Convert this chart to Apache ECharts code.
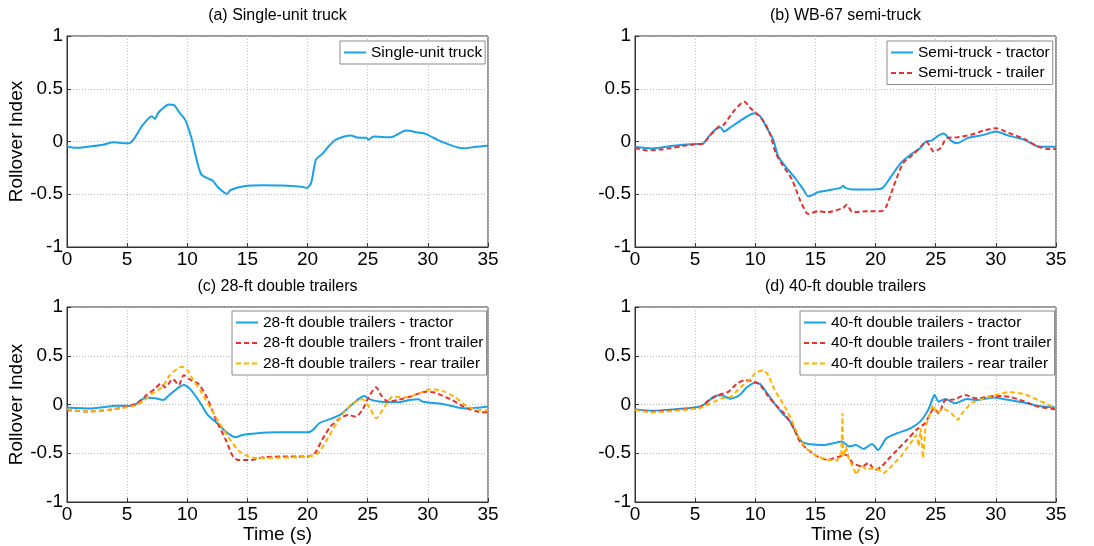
<!DOCTYPE html>
<html>
<head>
<meta charset="utf-8">
<script src="https://cdn.jsdelivr.net/npm/echarts@6/dist/echarts.min.js"></script>
<style>html,body{margin:0;padding:0;background:#fff;}#c{width:1094px;height:546px;}</style>
</head>
<body>
<div id="c"></div>
<script>
// ---- data: [time (s), rollover index] ----
const xTicks = [0, 5, 10, 15, 20, 25, 30, 35];
const yTicks = [-1, -0.5, 0, 0.5, 1];
const panelTitles = ['(a) Single-unit truck', '(b) WB-67 semi-truck', '(c) 28-ft double trailers', '(d) 40-ft double trailers'];

const suTruck = [[0,-0.047],[0.7,-0.06],[2,-0.045],[3,-0.03],[3.9,-0.008],[4.7,-0.016],[5.2,-0.016],[5.6,0.03],[6.3,0.157],[7.05,0.24],[7.3,0.215],[7.6,0.275],[8.25,0.34],[8.5,0.35],[8.9,0.345],[9.3,0.28],[9.85,0.2],[10.35,0.03],[10.75,-0.16],[11.15,-0.31],[11.7,-0.35],[12.1,-0.37],[12.6,-0.44],[13.3,-0.497],[13.6,-0.46],[14.7,-0.425],[16.3,-0.415],[17.9,-0.418],[19.5,-0.43],[19.95,-0.44],[20.3,-0.39],[20.7,-0.17],[21.2,-0.12],[21.8,-0.04],[22.4,0.02],[23.6,0.057],[24.1,0.038],[24.9,0.035],[25.05,0.015],[25.5,0.047],[26.9,0.04],[28.2,0.104],[29.2,0.085],[29.8,0.072],[31.1,0.0],[32.9,-0.065],[34,-0.05],[35,-0.04]];

const semiTractor = [[0,-0.053],[1.4,-0.066],[3.2,-0.04],[4.6,-0.025],[5.6,-0.022],[6.15,0.05],[6.7,0.115],[7.1,0.135],[7.4,0.094],[8,0.14],[8.8,0.2],[9.5,0.25],[9.9,0.267],[10.4,0.24],[10.9,0.14],[11.5,0.016],[11.9,-0.14],[12.5,-0.236],[13.3,-0.346],[14,-0.456],[14.4,-0.52],[14.8,-0.506],[15.2,-0.48],[16.2,-0.46],[17.1,-0.44],[17.3,-0.42],[17.5,-0.44],[18.1,-0.456],[19.4,-0.456],[20.5,-0.446],[21.3,-0.33],[22.1,-0.204],[22.9,-0.126],[23.7,-0.063],[24.2,0],[24.7,0.01],[25.1,0.047],[25.65,0.075],[26.3,0.006],[26.8,-0.016],[27.6,0.03],[29,0.063],[30,0.094],[31.1,0.053],[32.4,0.016],[33.5,-0.047],[34.5,-0.05],[35,-0.05]];

const semiTrailer = [[0,-0.06],[1,-0.085],[2,-0.078],[3,-0.062],[4,-0.042],[5,-0.028],[5.6,-0.022],[6.3,0.063],[6.95,0.14],[7.35,0.157],[8.3,0.3],[9.1,0.377],[9.6,0.315],[10.1,0.267],[10.8,0.173],[11.3,0.047],[11.7,-0.11],[12.25,-0.22],[13.05,-0.36],[13.7,-0.55],[14.25,-0.676],[14.4,-0.686],[15.2,-0.66],[16,-0.67],[17.3,-0.63],[17.6,-0.6],[18.1,-0.67],[19.4,-0.66],[20.5,-0.66],[20.9,-0.613],[21.5,-0.425],[22.3,-0.204],[23.1,-0.126],[23.9,-0.03],[24.2,0],[24.85,-0.094],[25.4,-0.063],[25.9,0.03],[26.8,0.04],[27.9,0.063],[29,0.104],[30,0.126],[31.1,0.08],[32.4,0.022],[33.5,-0.047],[34.3,-0.07],[35,-0.07]];

const d28Tractor = [[0,-0.03],[2.06,-0.04],[4.2,-0.012],[5.5,-0.015],[6,0.03],[6.56,0.073],[7.35,0.063],[8,0.046],[8.5,0.097],[9.3,0.176],[9.7,0.2],[10.3,0.15],[11.1,0.012],[11.7,-0.107],[12.5,-0.193],[13.2,-0.278],[14,-0.336],[14.6,-0.312],[15.8,-0.295],[17.4,-0.285],[19,-0.285],[20.05,-0.285],[20.45,-0.26],[21,-0.19],[21.9,-0.148],[22.7,-0.107],[23.5,-0.022],[24.2,0.053],[24.7,0.087],[25.2,0.053],[26.1,0.029],[27.5,0.022],[28.5,0.046],[29.2,0.053],[29.6,0.029],[31.2,0.005],[32.5,-0.03],[33.3,-0.04],[34,-0.034],[35,-0.02]];

const d28Front = [[0,-0.056],[1.5,-0.073],[3.4,-0.056],[5,-0.02],[5.8,0.012],[6.6,0.097],[7.35,0.165],[7.8,0.215],[8.15,0.176],[8.8,0.26],[9.3,0.2],[9.7,0.3],[10.3,0.25],[10.9,0.216],[11.6,0.08],[12.4,-0.16],[13.2,-0.364],[13.8,-0.534],[14.2,-0.568],[15.3,-0.568],[16.35,-0.54],[17.9,-0.534],[20,-0.534],[20.6,-0.5],[21.2,-0.364],[21.9,-0.227],[22.7,-0.142],[23.4,-0.107],[24,-0.125],[24.55,-0.056],[25.1,0.08],[25.7,0.176],[26.1,0.097],[26.7,0.029],[27.5,0.046],[28.5,0.08],[29.8,0.13],[30.6,0.12],[32,0.046],[33.3,-0.04],[34.2,-0.075],[35,-0.08]];

const d28Rear = [[0,-0.05],[1.5,-0.073],[3.4,-0.056],[5.5,-0.015],[6.3,0.03],[7.1,0.114],[7.9,0.176],[8.55,0.3],[9.2,0.37],[9.6,0.387],[10,0.353],[10.5,0.25],[11.06,0.148],[11.7,0.012],[12.6,-0.176],[13.4,-0.33],[14.2,-0.466],[15,-0.528],[15.8,-0.55],[17.4,-0.545],[20,-0.534],[20.85,-0.5],[21.6,-0.364],[22.4,-0.193],[23.2,-0.056],[23.75,0.012],[24.55,0.053],[25.2,-0.04],[25.7,-0.142],[26.4,-0.022],[27.1,0.08],[28,0.073],[29,0.097],[30.2,0.155],[31.2,0.14],[32.2,0.08],[33.3,-0.022],[34.2,-0.055],[35,-0.06]];

const d40Tractor = [[0,-0.05],[1.4,-0.063],[3.2,-0.05],[5.36,-0.022],[5.9,0.012],[6.55,0.08],[7.2,0.094],[7.9,0.06],[8.7,0.097],[9.3,0.176],[10,0.224],[10.4,0.21],[11.1,0.097],[11.7,-0.005],[12.25,-0.09],[12.9,-0.176],[13.4,-0.295],[13.85,-0.38],[14.4,-0.404],[15.7,-0.415],[16.5,-0.397],[17.2,-0.38],[17.8,-0.43],[18.35,-0.415],[19,-0.456],[19.7,-0.404],[20.2,-0.466],[20.9,-0.346],[21.8,-0.295],[22.9,-0.244],[23.7,-0.176],[24.3,-0.073],[24.7,0.046],[24.9,0.097],[25.25,0.029],[25.8,0.056],[26.6,0.012],[27.6,0.056],[28.4,0.046],[29.8,0.073],[31.1,0.046],[32.4,0.019],[33.5,-0.015],[35,-0.03]];

const d40Front = [[0,-0.05],[1.4,-0.073],[3.2,-0.056],[5.36,-0.03],[6.15,0.046],[6.95,0.097],[7.75,0.13],[8.5,0.216],[9.2,0.25],[9.87,0.234],[10.4,0.2],[11.1,0.08],[11.7,-0.005],[12.5,-0.107],[13.2,-0.244],[13.7,-0.38],[14.4,-0.466],[15.2,-0.534],[16,-0.568],[16.8,-0.54],[17.6,-0.517],[18.1,-0.6],[18.9,-0.636],[19.4,-0.6],[19.95,-0.67],[20.5,-0.636],[21,-0.568],[21.8,-0.466],[22.6,-0.364],[23.4,-0.26],[24.1,-0.193],[24.5,-0.107],[24.85,-0.04],[25.25,-0.09],[25.8,0.046],[26.6,0.053],[27.4,0.097],[28.4,0.063],[29.8,0.087],[31.1,0.08],[32.4,0.029],[33.5,-0.022],[35,-0.05]];

const d40Rear = [[0,-0.056],[1.4,-0.083],[3.2,-0.066],[5.36,-0.04],[6.3,0.012],[7.2,0.063],[8,0.08],[8.8,0.18],[9.5,0.25],[10.1,0.336],[10.7,0.353],[11.1,0.3],[11.6,0.148],[12.3,0.012],[12.9,-0.125],[13.6,-0.33],[14.2,-0.45],[15.2,-0.534],[16,-0.568],[16.8,-0.575],[17.15,-0.5],[17.25,-0.09],[17.3,-0.534],[17.55,-0.43],[17.7,-0.534],[18.1,-0.636],[18.4,-0.72],[18.6,-0.67],[18.9,-0.636],[19.3,-0.67],[19.7,-0.653],[20.2,-0.664],[20.7,-0.705],[21.3,-0.636],[22.1,-0.534],[22.9,-0.398],[23.4,-0.312],[23.6,-0.43],[23.75,-0.244],[23.95,-0.55],[24.15,-0.227],[24.5,-0.107],[24.75,-0.005],[25.1,-0.09],[25.65,-0.04],[26.3,-0.09],[26.85,-0.16],[27.2,-0.09],[27.9,0.012],[29,0.063],[30,0.097],[31.1,0.13],[32.4,0.107],[33.5,0.046],[34.5,-0.01],[35,-0.036]];

// ---- styling / layout ----
const FONT = 'Liberation Sans, Arial, sans-serif';
const BLUE = '#1ba1e6', RED = '#e3312f', YEL = '#ffb200';
const grids = [
  {left: 67, top: 36, width: 421, height: 211},
  {left: 635, top: 36, width: 421, height: 211},
  {left: 67, top: 307, width: 421, height: 195},
  {left: 635, top: 307, width: 421, height: 195}
];

const option = {
  animation: false,
  backgroundColor: '#fff',
  textStyle: {fontFamily: FONT},
  grid: grids.map(g => Object.assign({show: true, borderColor: '#333', borderWidth: 1, containLabel: false, outerBoundsMode: 'none'}, g)),
  xAxis: grids.map((g, i) => ({
    type: 'value', gridIndex: i, min: 0, max: 35, interval: 5,
    axisLine: {show: true, onZero: false, lineStyle: {color: '#333'}},
    axisTick: {show: true, inside: true, length: 4, lineStyle: {color: '#333'}},
    axisLabel: {margin: 3, fontSize: 19, color: '#000', fontFamily: FONT},
    splitLine: {show: true, lineStyle: {color: '#bdbdbd', type: [1, 2], width: 1}}
  })),
  yAxis: grids.map((g, i) => ({
    type: 'value', gridIndex: i, min: -1, max: 1, interval: 0.5,
    axisLine: {show: true, onZero: false, lineStyle: {color: '#333'}},
    axisTick: {show: true, inside: true, length: 4, lineStyle: {color: '#333'}},
    axisLabel: {margin: 4, fontSize: 19, color: '#000', fontFamily: FONT},
    splitLine: {show: true, lineStyle: {color: '#bdbdbd', type: [1, 2], width: 1}}
  })),
  legend: [
    {names: ['Single-unit truck'], left: 340, top: 41},
    {names: ['Semi-truck - tractor', 'Semi-truck - trailer'], left: 887, top: 41},
    {names: ['28-ft double trailers - tractor', '28-ft double trailers - front trailer', '28-ft double trailers - rear trailer'], left: 232, top: 311},
    {names: ['40-ft double trailers - tractor', '40-ft double trailers - front trailer', '40-ft double trailers - rear trailer'], left: 800, top: 311}
  ].map(l => ({
    data: l.names, left: l.left, top: l.top, orient: 'vertical',
    itemStyle: {color: 'rgba(0,0,0,0)', borderColor: 'rgba(0,0,0,0)', borderWidth: 0},
    backgroundColor: '#fff', borderColor: '#8a8a8a', borderWidth: 1,
    padding: [2.5, 3, 2.5, 3], itemWidth: 22, itemHeight: 10, itemGap: 2.5,
    textStyle: {fontSize: 15.5, color: '#000', fontFamily: FONT, lineHeight: 18}
  })),
  series: [],
  graphic: []
};

function addSeries(name, data, idx, color, dashed, smooth) {
  option.series.push({
    name: name, type: 'line', xAxisIndex: idx, yAxisIndex: idx, data: data,
    symbol: 'none', showSymbol: false, smooth: smooth,
    lineStyle: {color: color, width: 2, type: dashed ? [5, 3] : 'solid'},
    itemStyle: {color: color}
  });
}
addSeries('Single-unit truck', suTruck, 0, BLUE, false, 0.25);
addSeries('Semi-truck - tractor', semiTractor, 1, BLUE, false, 0.25);
addSeries('Semi-truck - trailer', semiTrailer, 1, RED, true, 0.25);
addSeries('28-ft double trailers - tractor', d28Tractor, 2, BLUE, false, 0.25);
addSeries('28-ft double trailers - front trailer', d28Front, 2, RED, true, 0.25);
addSeries('28-ft double trailers - rear trailer', d28Rear, 2, YEL, true, 0.25);
addSeries('40-ft double trailers - tractor', d40Tractor, 3, BLUE, false, 0.25);
addSeries('40-ft double trailers - front trailer', d40Front, 3, RED, true, 0.25);
addSeries('40-ft double trailers - rear trailer', d40Rear, 3, YEL, true, false);

function txt(text, x, y, size, rot) {
  option.graphic.push({type: 'text', x: x, y: y, rotation: rot || 0, silent: true, z: 10,
    style: {text: text, fontSize: size, fontFamily: FONT, fill: '#000', align: 'center', verticalAlign: 'middle'}});
}
grids.forEach((g, i) => txt(panelTitles[i], g.left + g.width / 2, g.top - 20, 16));
txt('Rollover Index', 17, grids[0].top + grids[0].height / 2, 19, Math.PI / 2);
txt('Rollover Index', 17, grids[2].top + grids[2].height / 2, 19, Math.PI / 2);
txt('Time (s)', grids[2].left + grids[2].width / 2, 535, 19);
txt('Time (s)', grids[3].left + grids[3].width / 2, 535, 19);

const chart = echarts.init(document.getElementById('c'), null, {renderer: 'canvas'});
chart.setOption(option);
</script>
</body>
</html>
